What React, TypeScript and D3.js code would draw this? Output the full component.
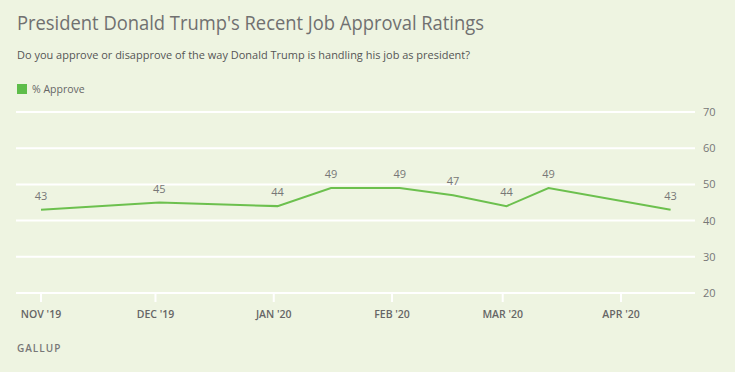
import React from "react";
import * as d3 from "d3";

const pollDates = ["2019-11-01", "2019-12-02", "2020-01-02", "2020-01-16", "2020-02-03", "2020-02-17", "2020-03-02", "2020-03-13", "2020-04-14"];
const approve = [43, 45, 44, 49, 49, 47, 44, 49, 43];
const monthTicks = ["2019-11-01", "2019-12-01", "2020-01-01", "2020-02-01", "2020-03-01", "2020-04-01"];
const monthLabels = ["NOV '19", "DEC '19", "JAN '20", "FEB '20", "MAR '20", "APR '20"];
const yTicks = [20, 30, 40, 50, 60, 70];

const W = 735;
const H = 372;
const parse = d3.utcParse("%Y-%m-%d");

export default function App() {
  const x = d3
    .scaleUtc()
    .domain([parse(monthTicks[0])!, parse(monthTicks[5])!])
    .range([41, 621]);
  const y = d3.scaleLinear().domain([20, 70]).range([293, 112]);
  const pts = pollDates.map((d, i) => ({ d: parse(d)!, v: approve[i] }));
  const line = d3
    .line<{ d: Date; v: number }>()
    .x((p) => x(p.d))
    .y((p) => y(p.v));
  const font = "'Open Sans', 'Noto Sans', sans-serif";
  return (
    <svg
      width={W}
      height={H}
      style={{ position: "absolute", left: 0, top: 0, display: "block" }}
      fontFamily={font}
    >
      <rect width={W} height={H} fill="#eef4e1" />
      <text x={17} y={30} fontSize={19.5} fill="#707070" textLength={467} lengthAdjust="spacingAndGlyphs">
        President Donald Trump's Recent Job Approval Ratings
      </text>
      <text x={17} y={59} fontSize={10.5} fill="#555" textLength={453} lengthAdjust="spacingAndGlyphs">
        Do you approve or disapprove of the way Donald Trump is handling his job as president?
      </text>
      <rect x={17} y={84} width={10} height={10} fill="#5ebd4a" />
      <text x={32} y={93} fontSize={10.5} fill="#666">
        % Approve
      </text>
      {yTicks.map((t) => (
        <g key={t}>
          <line x1={16} x2={695} y1={y(t)} y2={y(t)} stroke="#ffffff" strokeWidth={2} />
          <text x={703} y={y(t) + 4} fontSize={11} fill="#777">
            {t}
          </text>
        </g>
      ))}
      {monthTicks.map((m, i) => (
        <g key={m}>
          <line x1={x(parse(m)!)} x2={x(parse(m)!)} y1={293} y2={302} stroke="#ffffff" strokeWidth={2} />
          <text x={x(parse(m)!)} y={318} fontSize={10.5} fill="#666" textAnchor="middle" fontWeight={600}>
            {monthLabels[i]}
          </text>
        </g>
      ))}
      <path d={line(pts) ?? ""} fill="none" stroke="#6cc04e" strokeWidth={2} />
      {pts.map((p, i) => (
        <text key={i} x={x(p.d)} y={y(p.v) - 10} fontSize={11} fill="#777" textAnchor="middle">
          {p.v}
        </text>
      ))}
      <text x={17} y={352} fontSize={10} fill="#777" letterSpacing={1} fontWeight={600}>
        GALLUP
      </text>
    </svg>
  );
}
